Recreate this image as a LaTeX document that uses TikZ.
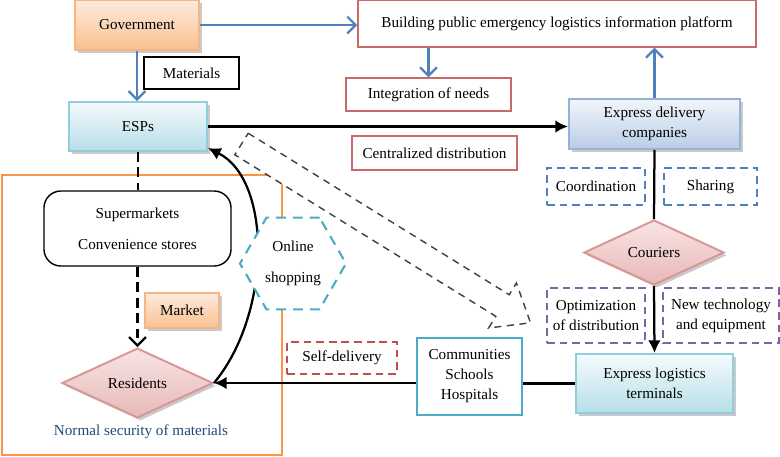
\documentclass[tikz,border=0pt]{standalone}
\usepackage{fontspec}
\setmainfont{Liberation Serif}
\usetikzlibrary{arrows.meta,shapes.geometric,shadows}
\definecolor{orangetop}{HTML}{FDEBDD}
\definecolor{orangebot}{HTML}{FAC090}
\definecolor{orangeline}{HTML}{F8B584}
\definecolor{cyantop}{HTML}{F4FBFD}
\definecolor{cyanbot}{HTML}{B7DEE8}
\definecolor{cyanline}{HTML}{92CDDC}
\definecolor{bluetop}{HTML}{F2F6FB}
\definecolor{bluebot}{HTML}{B9CDE5}
\definecolor{blueline}{HTML}{95B3D7}
\definecolor{pinktop}{HTML}{F8E4E3}
\definecolor{pinkbot}{HTML}{E6B9B8}
\definecolor{pinkline}{HTML}{D99694}
\definecolor{redline}{HTML}{C0504D}
\definecolor{arrowblue}{HTML}{4F81BD}
\definecolor{violet}{HTML}{8064A2}
\definecolor{hexcyan}{HTML}{4BACC6}
\definecolor{frameorange}{HTML}{F79646}
\definecolor{textblue}{HTML}{1F497D}
\definecolor{flowgray}{HTML}{404040}
\tikzset{
  shade_box/.style={line width=1.4pt,align=center,inner sep=2pt,
    drop shadow={shadow xshift=2pt,shadow yshift=-2pt,opacity=0.35,fill=black!60}},
  orange_box/.style={shade_box,draw=orangeline,top color=orangetop,bottom color=orangebot},
  cyan_box/.style={shade_box,draw=cyanline,top color=cyantop,bottom color=cyanbot},
  blue_box/.style={shade_box,draw=blueline,top color=bluetop,bottom color=bluebot},
  pink_dia/.style={shade_box,diamond,inner sep=0pt,draw=pinkline,top color=pinktop,bottom color=pinkbot},
  red_box/.style={draw=redline!85,line width=1pt,fill=white,align=center},
  plain_box/.style={draw=black,line width=1pt,fill=white,align=center},
  dash_box/.style={line width=1.4pt,dash pattern=on 5.5pt off 3.5pt,fill=white,align=center},
  arr_blue/.style={-{Straight Barb[length=6pt,width=12pt]},draw=arrowblue,line width=1.6pt},
  arr_black/.style={-{Latex[length=9pt,width=9pt]},draw=black,line width=1.6pt},
}

\begin{document}
\begin{tikzpicture}[x=0.025cm,y=-0.025cm,font=\fontsize{10.8}{14.2}\selectfont]
  \useasboundingbox (0,0) rectangle (780,456);

  % normal supply frame
  \draw[draw=frameorange,line width=1.6pt] (2,175) rectangle (282,455);

  \node[orange_box,minimum width=3.1cm,minimum height=1.25cm] (gov) at (137,25) {Government};
  \node[red_box,minimum width=9.95cm,minimum height=1.175cm] (platform) at (557,23.5)
    {Building public emergency logistics information platform};
  \node[plain_box,minimum width=2.375cm,minimum height=0.8cm] (materials) at (191.5,73) {Materials};
  \node[cyan_box,minimum width=3.45cm,minimum height=1.225cm] (esps) at (138,126.5) {ESPs};
  \node[red_box,minimum width=4.125cm,minimum height=0.825cm] (needs) at (428.5,94.5) {Integration of needs};
  \node[red_box,minimum width=4.125cm,minimum height=0.85cm] (central) at (434.5,153) {Centralized distribution};
  \node[blue_box,minimum width=4.275cm,minimum height=1.25cm] (express) at (654.5,124)
    {Express delivery\\companies};
  \node[dash_box,draw=arrowblue,minimum width=2.45cm,minimum height=0.925cm] (coord) at (596,186.5) {Coordination};
  \node[dash_box,draw=arrowblue,minimum width=2.325cm,minimum height=0.925cm] (sharing) at (710.5,186.5) {Sharing};
  \node[pink_dia,minimum width=3.5cm,minimum height=1.625cm] (couriers) at (654,252.5) {Couriers};
  \node[dash_box,draw=violet,minimum width=2.45cm,minimum height=1.375cm] (optim) at (596,315.5)
    {Optimization\\of distribution};
  \node[dash_box,draw=violet,minimum width=2.9cm,minimum height=1.375cm] (newtech) at (721,315.5)
    {New technology\\and equipment};
  \node[cyan_box,minimum width=3.925cm,minimum height=1.475cm] (terminals) at (654.5,383.5)
    {Express logistics\\terminals};
  \node[draw=hexcyan,line width=1.3pt,fill=white,align=center,minimum width=2.625cm,minimum height=1.925cm]
    (places) at (469.5,376.5) {Communities\\Schools\\Hospitals};
  \node[dash_box,draw=redline,minimum width=2.75cm,minimum height=0.8cm] (selfdel) at (342,358) {Self-delivery};
  \node[pink_dia,minimum width=3.775cm,minimum height=1.5cm] (residents) at (137.5,383) {Residents};
  \node[text=textblue] (normal) at (141,432) {Normal security of materials};
  \node[plain_box,rounded corners=12pt,minimum width=4.675cm,minimum height=1.875cm] (shops) at (137.5,228.5)
    {Supermarkets\\[8pt]Convenience stores};
  \node[orange_box,minimum width=1.85cm,minimum height=0.875cm] (market) at (182,310.5) {Market};

  \draw[arr_blue] (gov.east) -- (gov.east -| platform.west);
  \draw[arr_blue] (gov.south) -- (gov.south |- esps.north);
  \draw[arr_blue] (needs.north |- platform.south) -- (needs.north);
  \draw[arr_blue] (express.north) -- (express.north |- platform.south);
  \draw[arr_black] (esps.east) -- (esps.east -| express.west);
  \draw[line width=1.6pt] (express.south) -- (couriers.north);
  \draw[arr_black] (couriers.south) -- (terminals.north);
  \draw[line width=1.6pt] (terminals.west) -- (terminals.west -| places.east);
  \draw[arr_black] (places.west |- residents.east) -- (residents.east);
  \draw[line width=1.7pt,dash pattern=on 7pt off 4pt] (esps.south) -- (esps.south |- shops.north);
  \draw[-{Straight Barb[length=6pt,width=12pt]},line width=1.7pt,dash pattern=on 7pt off 4pt]
    (shops.south) -- (residents.north);
  \draw[arr_black] (residents.east) .. controls (272,313) and (272,180) .. ([yshift=0.1cm]esps.south east);

  \node[regular polygon,regular polygon sides=6,minimum size=2.65cm,inner sep=0pt,draw=hexcyan,fill=white,
    line width=1.5pt,dash pattern=on 7pt off 5pt,align=center] (online) at (293,263.5) {Online\\[8pt]shopping};

  % hollow flow arrow
  \draw[draw=flowgray,fill=white,line width=1pt,dash pattern=on 5pt off 4pt]
    (248.2,133.2) -- (509.2,294.7) -- (516.4,283) -- (530.5,322.8) -- (488.6,328)
    -- (495.8,316.3) -- (234.8,154.8) -- cycle;
\end{tikzpicture}
\end{document}
